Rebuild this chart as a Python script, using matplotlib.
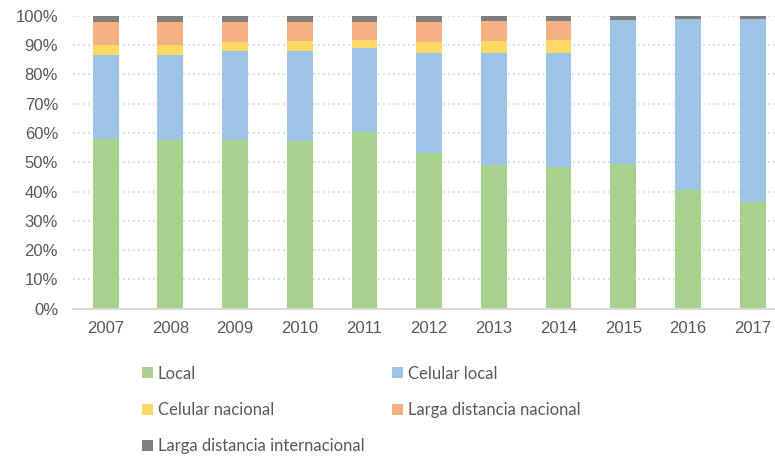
import matplotlib.pyplot as plt
import numpy as np

# datos (porcentaje de trafico por tipo de llamada)
years = ['2007', '2008', '2009', '2010', '2011', '2012', '2013', '2014', '2015', '2016', '2017']
local = [58.0, 57.6, 57.6, 57.3, 60.4, 53.2, 49.1, 48.3, 49.5, 40.6, 36.5]
celular_local = [28.6, 29.0, 30.5, 30.8, 28.7, 34.2, 38.3, 39.1, 49.0, 58.3, 62.4]
celular_nacional = [3.4, 3.4, 3.0, 3.4, 2.8, 3.7, 4.1, 4.5, 0.0, 0.0, 0.0]
ld_nacional = [7.8, 8.0, 6.7, 6.3, 5.9, 6.7, 6.8, 6.4, 0.0, 0.0, 0.0]
ld_internacional = [2.2, 2.0, 2.2, 2.2, 2.2, 2.2, 1.7, 1.7, 1.5, 1.1, 1.1]

series = [local, celular_local, celular_nacional, ld_nacional, ld_internacional]
labels = ['Local', 'Celular local', 'Celular nacional',
          'Larga distancia nacional', 'Larga distancia internacional']
colors = ['#a9d18e', '#9dc3e6', '#ffd966', '#f4b183', '#7f7f7f']

plt.rcParams['font.family'] = ['Liberation Sans', 'DejaVu Sans']

fig = plt.figure(figsize=(7.75, 4.57), dpi=100)
ax = fig.add_axes([73.3 / 775, 1 - 308.7 / 457, 711.7 / 775, 292.8 / 457])

x = np.arange(len(years))
bottom = np.zeros(len(years))
handles = []
for vals, lab, col in zip(series, labels, colors):
    vals = np.array(vals)
    b = ax.bar(x, vals, 0.4, bottom=bottom, color=col, label=lab, zorder=3)
    handles.append(b)
    bottom = bottom + vals

ax.set_xlim(-0.5, len(years) - 0.5)
ax.set_ylim(0, 100)
ax.set_yticks(np.arange(0, 101, 10))
ax.set_yticklabels([f'{v}%' for v in range(0, 101, 10)])
ax.set_xticks(x)
ax.set_xticklabels(years)

ax.grid(axis='y', linestyle=(0, (1, 2)), color='#c5d7ee', linewidth=1.2, zorder=0)
for s in ['top', 'right', 'left']:
    ax.spines[s].set_visible(False)
ax.spines['bottom'].set_color('#d9d9d9')
ax.spines['bottom'].set_linewidth(1.5)
ax.spines['bottom'].set_zorder(4)

ax.tick_params(axis='y', length=0, pad=11, labelsize=12, labelcolor='#595959')
ax.tick_params(axis='x', length=0, pad=9, labelsize=12, labelcolor='#595959')

# legend llena por columnas -> reordenar para que se lea por filas
order = [0, 2, 4, 1, 3]
leg = fig.legend(handles=[handles[i] for i in order], loc='upper left',
                 bbox_to_anchor=(135 / 775, 1 - 359 / 457),
                 ncol=2, frameon=False, prop={'family': 'Lato', 'size': 12},
                 handlelength=0.65, handleheight=0.65, handletextpad=0.3,
                 labelspacing=1.22, columnspacing=1.7, borderaxespad=0)
for t in leg.get_texts():
    t.set_color('#595959')

plt.savefig('out.png', dpi=100)
